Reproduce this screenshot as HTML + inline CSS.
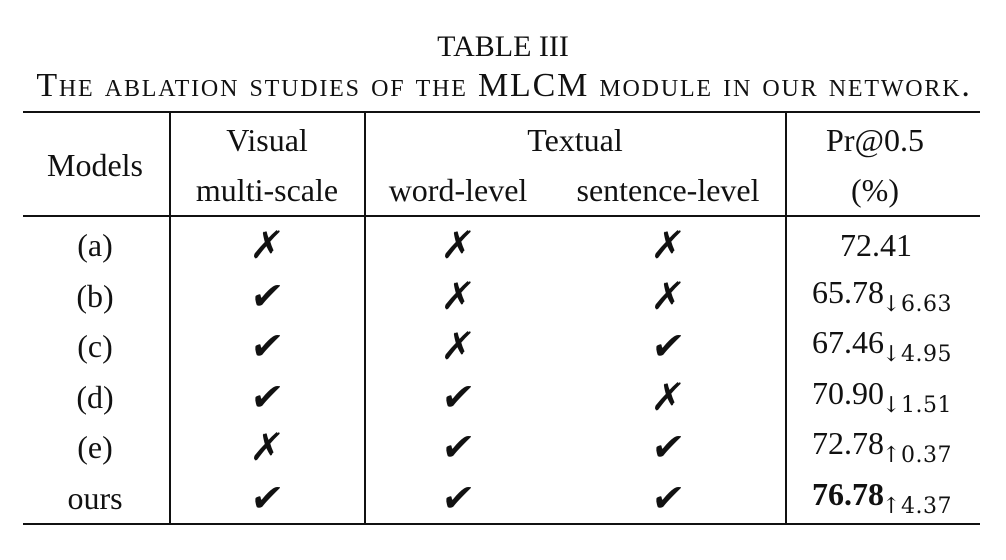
<!DOCTYPE html>
<html><head><meta charset="utf-8"><style>
body{margin:0;width:1006px;height:560px;background:#fff;position:relative;overflow:hidden;font-family:"Liberation Serif","DejaVu Serif",serif;color:#111}
.t{position:absolute;transform:translate(-50%,-50%);white-space:nowrap;font-size:32px;line-height:1}
.h{position:absolute;background:#111}
.ck{font-family:"DejaVu Sans",sans-serif;font-size:38px;font-weight:bold;transform:translate(-50%,-50%) skewX(-8deg)}
sub{font-size:22px;vertical-align:-8px;font-family:"DejaVu Serif",serif;letter-spacing:0.5px;margin-left:-2px}
</style></head><body>
<div class="t" style="left:503px;top:47px;font-size:30px">TABLE III</div>
<div class="t" style="left:504px;top:86px;font-size:34px;font-variant:small-caps;letter-spacing:1.8px">The ablation studies of the MLCM module in our network.</div>

<div class="h" style="left:23px;top:111px;width:957px;height:2px"></div>
<div class="h" style="left:23px;top:215px;width:957px;height:2px"></div>
<div class="h" style="left:23px;top:523px;width:957px;height:2px"></div>
<div class="h" style="left:169px;top:112px;width:2px;height:412px"></div>
<div class="h" style="left:364px;top:112px;width:2px;height:412px"></div>
<div class="h" style="left:785px;top:112px;width:2px;height:412px"></div>

<div class="t" style="left:95px;top:165px">Models</div>
<div class="t" style="left:267px;top:140px">Visual</div>
<div class="t" style="left:267px;top:190px">multi-scale</div>
<div class="t" style="left:575px;top:140px">Textual</div>
<div class="t" style="left:458px;top:190px">word-level</div>
<div class="t" style="left:668px;top:190px">sentence-level</div>
<div class="t" style="left:875px;top:140px">Pr@0.5</div>
<div class="t" style="left:875px;top:190px">(%)</div>

<div id="rows"></div>
<script>
const models=["(a)","(b)","(c)","(d)","(e)","ours"];
const visual=[0,1,1,1,0,1];
const word=[0,0,0,1,1,1];
const sent=[0,0,1,0,1,1];
const scores=["72.41","65.78","67.46","70.90","72.78","76.78"];
const deltas=["","↓6.63","↓4.95","↓1.51","↑0.37","↑4.37"];
const c=document.getElementById('rows');
function add(x,y,html,cls,name){
 const d=document.createElement('div');
 d.className='t '+(cls||'');
 d.style.left=x+'px';d.style.top=y+'px';d.innerHTML=html;
 
 
 c.appendChild(d);
}
models.forEach((m,i)=>{
 const y=245+i*50.6;
 add(95,y,m,'','model-label');
 add(267,y,visual[i]?'✔':'✗','ck','visual-mark');
 add(458,y,word[i]?'✔':'✗','ck','word-mark');
 add(668,y,sent[i]?'✔':'✗','ck','sentence-mark');
 const s=(i==models.length-1)?'<b>'+scores[i]+'</b>':scores[i];
 add(deltas[i]?882:876,y,s+(deltas[i]?'<sub>'+deltas[i]+'</sub>':''),'','score-cell');
});
</script>
</body></html>
